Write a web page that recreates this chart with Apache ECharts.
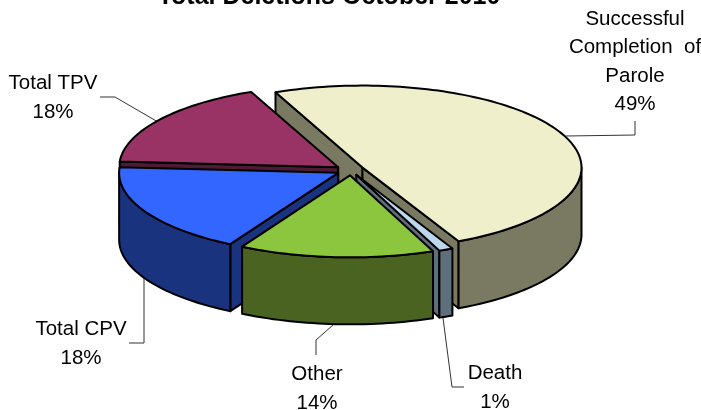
<!DOCTYPE html>
<html><head><meta charset="utf-8">
<style>html,body{margin:0;padding:0;background:#fff}#c{width:701px;height:410px}</style>
<script src="https://cdn.jsdelivr.net/npm/echarts@6/dist/echarts.min.js"></script>
</head><body><div id="c"></div>
<script>
const titleText = 'Total Deletions October 2010';
const categories = ['Successful\nCompletion  of\nParole', 'Death', 'Other', 'Total CPV', 'Total TPV'];
const values = [49, 1, 14, 18, 18];
const percentLabels = ['49%', '1%', '14%', '18%', '18%'];
const topColors = ['#EFEFCB', '#BDD7EE', '#8CC63F', '#3366FF', '#993366'];
const wallColors = ['#7A7A62', '#5F6F7C', '#4A6320', '#1A337F', '#4F1A35'];
const drawOrder = [0, 4, 3, 1, 2];

const startAngle = -25, cx = 350, cy = 170, rx = 219, ry = 82, depth = 67, explode = 14, explodeY = 0.38, perspective = 4.3, perspectivePhase = 50;
const total = values.reduce((a, b) => a + b, 0);
const spans = [];
let acc = startAngle;
values.forEach(v => { const s = acc, e = acc + v / total * 360; spans.push([s, e]); acc = e; });
const rad = d => d * Math.PI / 180;
// angles nearer the viewer are drawn slightly further round, as the foreshortened 3D view does
const warp = a => a + perspective * (1 - Math.cos(rad(a - perspectivePhase))) / 2;

function at(c, w, dy) { return [c[0] + rx * Math.sin(rad(w)), c[1] - ry * Math.cos(rad(w)) + (dy || 0)]; }
function pt(c, a, dy) { return at(c, warp(a), dy); }
function arc(c, a0, a1, dy) {
  const n = Math.max(2, Math.ceil(Math.abs(a1 - a0) / 1.5)), o = [];
  for (let i = 0; i <= n; i++) o.push(pt(c, a0 + (a1 - a0) * i / n, dy));
  return o;
}
// the rim, limited to the half of the ellipse that faces the viewer
function rim(c, a0, a1, dy) {
  const n = Math.max(2, Math.ceil(Math.abs(a1 - a0) / 1.5)), o = [];
  for (let i = 0; i <= n; i++) {
    const w = warp(a0 + (a1 - a0) * i / n);
    o.push(at(c, Math.min(270, Math.max(90, w)), dy));
  }
  return o;
}
function poly(points, fill) {
  return { type: 'polygon', shape: { points }, style: { fill, stroke: '#000', lineWidth: 2, lineJoin: 'round' } };
}
function renderSlice(params) {
  const i = drawOrder[params.dataIndex], s = spans[i][0], e = spans[i][1];
  const mid = (s + e) / 2;
  const c = [cx + explode * Math.sin(rad(mid)), cy - explode * explodeY * Math.cos(rad(mid))];
  const kids = [];
  const wall = wallColors[i];
  const P = pt(c, s), Q = pt(c, e);
  const low = p => [p[0], p[1] + depth];
  // radial cut faces that look toward the viewer
  if (Math.cos(rad(s - 90)) < 0) kids.push(poly([c, P, low(P), low(c)], wall));
  if (Math.cos(rad(e + 90)) < 0) kids.push(poly([c, Q, low(Q), low(c)], wall));
  // outer wall: only the front half of the rim shows
  if (e > 85 && s < 270) kids.push(poly(rim(c, s, e, 0).concat(rim(c, e, s, depth)), wall));
  kids.push(poly([c].concat(arc(c, s, e, 0)), topColors[i]));
  return { type: 'group', children: kids };
}

const font = 'Liberation Sans, Arial, sans-serif';
const labelAt = [[635, 62], [495, 388], [317, 389], [81, 344], [53, 98]];
const leaders = [
  [[566, 136], [635, 135], [635, 121]],
  [[443, 318], [452, 387], [464, 387]],
  [[333, 325], [316, 340], [316, 355]],
  [[144, 278], [144, 343], [129, 343]],
  [[158, 122], [115, 97], [100, 97]]
];
const graphics = [];
leaders.forEach(l => graphics.push({ type: 'polyline', z: 1, shape: { points: l }, style: { stroke: '#333', lineWidth: 1, fill: null } }));
categories.forEach((name, i) => graphics.push({
  type: 'text', z: 5, x: labelAt[i][0], y: labelAt[i][1],
  style: { text: name + '\n' + percentLabels[i], font: '20.5px ' + font, fill: '#000', align: 'center', verticalAlign: 'middle', lineHeight: 28.4 }
}));

const chart = echarts.init(document.getElementById('c'), null, { renderer: 'canvas' });
chart.setOption({
  animation: false,
  backgroundColor: '#fff',
  title: { text: titleText, left: 324, top: -20, textAlign: 'center', textStyle: { fontFamily: font, fontSize: 25, fontWeight: 'bold', color: '#000' } },
  graphic: graphics,
  series: [{
    type: 'custom', coordinateSystem: 'none', clip: false, z: 3,
    renderItem: renderSlice,
    data: drawOrder.map(i => ({ name: categories[i], value: [values[i]] }))
  }]
});
</script></body></html>
